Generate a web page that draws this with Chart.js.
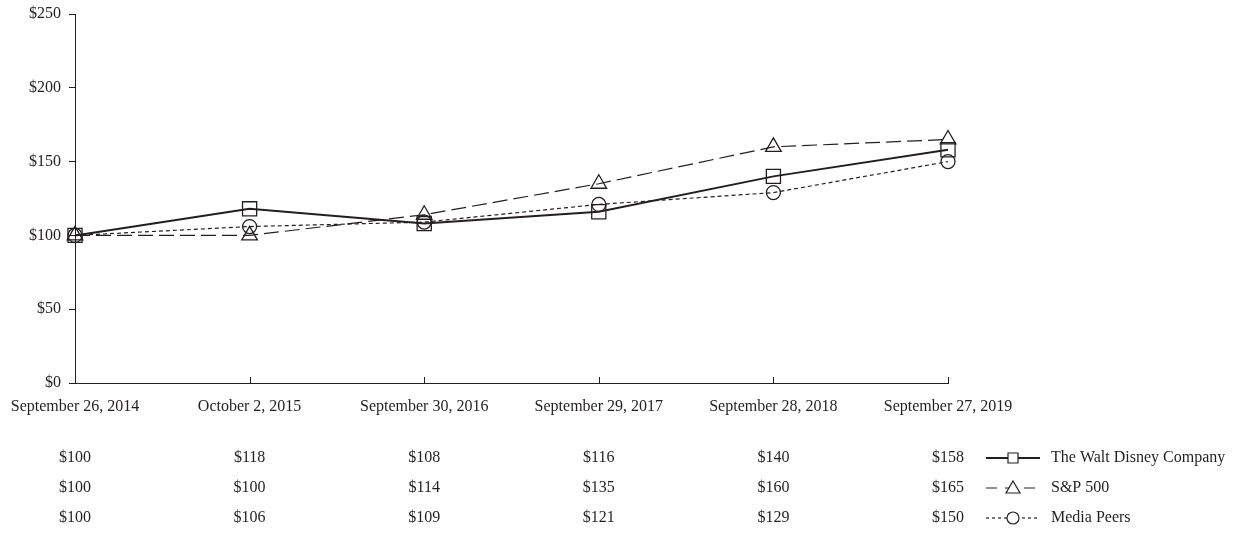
<!DOCTYPE html>
<html>
<head>
<meta charset="utf-8">
<script src="https://cdn.jsdelivr.net/npm/chart.js@4/dist/chart.umd.min.js"></script>
<style>
  html, body { margin: 0; padding: 0; background: #fff; }
  #wrap { width: 1233px; height: 537px; }
</style>
</head>
<body>
<div id="wrap"><canvas id="perf" width="1233" height="537"></canvas></div>
<script>
// ===== Data =====
const dates = ['September 26, 2014', 'October 2, 2015', 'September 30, 2016', 'September 29, 2017', 'September 28, 2018', 'September 27, 2019'];
const disney = [100, 118, 108, 116, 140, 158];
const sp500 = [100, 100, 114, 135, 160, 165];
const mediaPeers = [100, 106, 109, 121, 129, 150];
const seriesNames = ['The Walt Disney Company', 'S&P 500', 'Media Peers'];
const yTicks = [0, 50, 100, 150, 200, 250];

const FONT = '"Liberation Serif", "Times New Roman", serif';
const FSIZE = 16;
const INK = '#231f20';

const styles = [
  { data: disney, width: 2, dash: [], legendDash: [], point: 'rect', radius: 10 },
  { data: sp500, width: 1.2, dash: [15, 6], legendDash: [11, 8], point: 'triangle', radius: 9 },
  { data: mediaPeers, width: 1.2, dash: [4, 3], legendDash: [3, 3], point: 'circle', radius: 7 }
];

// table under the chart + legend + inner x ticks
const tablePlugin = {
  id: 'tablePlugin',
  afterDraw(chart) {
    const { ctx, scales: { x, y } } = chart;
    ctx.save();
    // x ticks pointing up into the plot
    ctx.strokeStyle = INK;
    ctx.lineWidth = 1;
    dates.forEach((d, i) => {
      const px = Math.round(x.getPixelForValue(i)) + 0.5;
      ctx.beginPath();
      ctx.moveTo(px, y.bottom);
      ctx.lineTo(px, y.bottom - 6);
      ctx.stroke();
    });
    // table rows
    ctx.font = FSIZE + 'px ' + FONT;
    ctx.textBaseline = 'middle';
    const rowY = [458, 488, 518];
    styles.forEach((s, r) => {
      ctx.fillStyle = INK;
      ctx.textAlign = 'center';
      s.data.forEach((v, i) => ctx.fillText('$' + v, x.getPixelForValue(i), rowY[r]));
      // legend sample
      const x0 = 986, x1 = 1040, mx = 1013, my = rowY[r];
      ctx.strokeStyle = INK;
      ctx.lineWidth = s.width;
      ctx.setLineDash(s.legendDash);
      ctx.beginPath();
      ctx.moveTo(x0, my);
      ctx.lineTo(x1, my);
      ctx.stroke();
      ctx.setLineDash([]);
      ctx.lineWidth = 1.2;
      ctx.fillStyle = '#fff';
      ctx.beginPath();
      if (s.point === 'rect') ctx.rect(mx - 5, my - 5, 10, 10);
      else if (s.point === 'triangle') { ctx.moveTo(mx, my - 7); ctx.lineTo(mx + 7, my + 5); ctx.lineTo(mx - 7, my + 5); ctx.closePath(); }
      else ctx.arc(mx, my, 6, 0, Math.PI * 2);
      ctx.fill();
      ctx.stroke();
      ctx.fillStyle = INK;
      ctx.textAlign = 'left';
      ctx.fillText(seriesNames[r], 1051, my);
    });
    ctx.restore();
  }
};

new Chart(document.getElementById('perf'), {
  type: 'line',
  data: {
    labels: dates,
    datasets: styles.map((s, i) => ({
      label: seriesNames[i],
      data: s.data,
      borderColor: INK,
      borderWidth: s.width,
      borderDash: s.dash,
      pointStyle: s.point,
      pointRadius: s.radius,
      pointBorderWidth: 1.3,
      pointBorderColor: INK,
      pointBackgroundColor: 'rgba(255,255,255,0)',
      tension: 0
    }))
  },
  options: {
    responsive: false,
    animation: false,
    layout: { padding: { top: 14, right: 285, left: 0, bottom: 0 } },
    plugins: { legend: { display: false }, tooltip: { enabled: false } },
    scales: {
      x: {
        offset: false,
        grid: { display: false },
        border: { color: INK, width: 1 },
        ticks: { color: INK, font: { family: FONT, size: FSIZE }, maxRotation: 0, autoSkip: false, padding: 6 },
        afterFit: s => { s.height = 537 - 383; }
      },
      y: {
        min: 0, max: 250,
        afterBuildTicks: s => { s.ticks = yTicks.map(v => ({ value: v })); },
        grid: { drawOnChartArea: false, tickLength: 6, color: INK },
        border: { color: INK, width: 1 },
        ticks: { color: INK, font: { family: FONT, size: FSIZE }, padding: 8, callback: v => '$' + v },
        afterFit: s => { s.width = 75; s.paddingTop = 0; s.paddingBottom = 0; }
      }
    }
  },
  plugins: [tablePlugin]
});
</script>
</body>
</html>
